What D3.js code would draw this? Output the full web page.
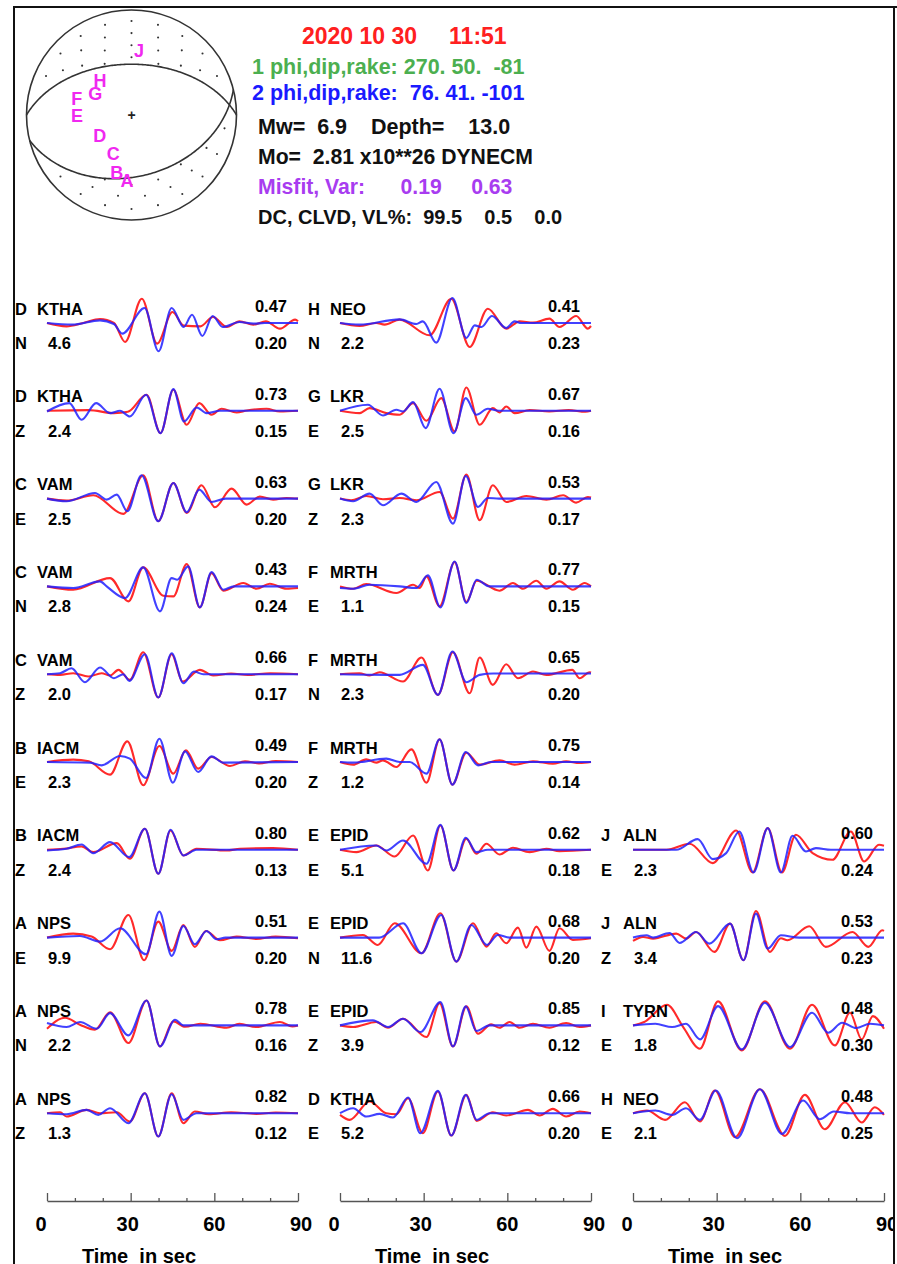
<!DOCTYPE html>
<html>
<head>
<meta charset="utf-8">
<title>Moment tensor inversion 2020 10 30</title>
<script src="https://cdn.jsdelivr.net/npm/d3@7"></script>
<style>
  body { margin: 0; background: #fff; }
  text { font-family: "Liberation Sans", Arial, Helvetica, sans-serif; font-weight: bold; white-space: pre; }
</style>
</head>
<body>
<script>
var width = 897, height = 1264

// ---- header / solution ----
var headerLines = [
  "2020 10 30     11:51",
  "1 phi,dip,rake: 270. 50.  -81",
  "2 phi,dip,rake:  76. 41. -101",
  "Mw=  6.9    Depth=    13.0",
  "Mo=  2.81 x10**26 DYNECM",
  "Misfit, Var:      0.19     0.63",
  "DC, CLVD, VL%:  99.5    0.5    0.0"
]
var headerColors = ["#ff2020", "#4caf50", "#1a1aff", "#111", "#111", "#a83cf0", "#111"]
var plane1 = [270, 50, -81]   // strike, dip, rake
var plane2 = [76, 41, -101]

// stations plotted on the focal sphere (azimuth deg, relative radius)
var bbLetters = ["J", "H", "G", "F", "E", "D", "C", "B", "A"]
var bbAz = [6.6, 317.6, 300.6, 286.5, 269.5, 237, 205, 194.5, 184]
var bbRad = [0.62, 0.445, 0.40, 0.544, 0.52, 0.36, 0.41, 0.563, 0.626]

// ---- panels ----
var letters = ["D","D","C","C","C","B","B","A","A","A", "H","G","G","F","F","F","E","E","E","D", "J","J","I","H"]
var stations = ["KTHA","KTHA","VAM","VAM","VAM","IACM","IACM","NPS","NPS","NPS",
                "NEO","LKR","LKR","MRTH","MRTH","MRTH","EPID","EPID","EPID","KTHA",
                "ALN","ALN","TYRN","NEO"]
var comps = ["N","Z","E","N","Z","E","Z","E","N","Z", "N","E","Z","E","N","Z","E","N","Z","E", "E","Z","E","E"]
var amps = ["4.6","2.4","2.5","2.8","2.0","2.3","2.4","9.9","2.2","1.3",
            "2.2","2.5","2.3","1.1","2.3","1.2","5.1","11.6","3.9","5.2",
            "2.3","3.4","1.8","2.1"]
var varRed = ["0.47","0.73","0.63","0.43","0.66","0.49","0.80","0.51","0.78","0.82",
              "0.41","0.67","0.53","0.77","0.65","0.75","0.62","0.68","0.85","0.66",
              "0.60","0.53","0.48","0.48"]
var misfits = ["0.20","0.15","0.20","0.24","0.17","0.20","0.13","0.20","0.16","0.12",
               "0.23","0.16","0.17","0.15","0.20","0.14","0.18","0.20","0.12","0.20",
               "0.24","0.23","0.30","0.25"]

// observed (red) and synthetic (blue) traces: [time s, normalised amplitude]
var obs = [
 [[0,0],[7,-10],[13,0],[19,12],[24,0],[28,-57],[34,73],[39.5,-62],[45,33],[49,-8],[55,-10],[59.5,18],[64.5,-12],[69,5],[74,-5],[78.5,5],[83.5,-17],[89,10],[90,5]],
 [[0,0],[15,2],[24,-7],[29,-3],[35.7,48],[40.7,-67],[45.3,63],[50.1,-42],[54.6,23],[59,-12],[62.6,6],[68,-5],[71.6,1],[78.7,6],[83.5,-2],[90,0]],
 [[0,0],[7,-6],[16.6,10],[27.4,-46],[34.5,70],[39.9,-68],[45.3,47],[50.1,-43],[55.4,40],[60.2,-26],[66.2,30],[71.6,-18],[76.3,6],[81.1,-3],[85.9,2],[90,0]],
 [[0,0],[9.4,-10],[22.6,25],[29.2,-45],[34.5,57],[41.7,-28],[45.3,-30],[50.1,67],[54.8,-63],[59,40],[63.2,-13],[70.4,10],[75.1,-7],[79.9,8],[85.9,-7],[90,-5]],
 [[0,0],[4.7,-2],[9.4,3],[14.8,-7],[19.6,3],[22.6,-4],[25.6,13],[29.7,-17],[34.5,66],[39.9,-70],[44.7,60],[48.6,-22],[54.8,13],[59.6,-4],[66,2],[72,-2],[80,3],[90,0]],
 [[0,0],[9.4,7],[15,2],[22.6,-38],[28.8,62],[34.5,-70],[40.3,48],[45.3,-35],[49.8,35],[54.2,-20],[59,15],[65.6,-12],[71,2],[76,-4],[82,3],[90,0]],
 [[0,0],[5.9,3],[12.4,10],[16.6,-7],[25,20],[29.7,-27],[35.1,63],[39.9,-72],[44.3,58],[48.9,-17],[53.6,3],[64.4,-2],[69.2,3],[81,5],[90,0]],
 [[0,0],[9.4,12],[16,3],[22.6,-35],[29.2,68],[34.8,-68],[39.9,48],[44.7,-40],[48.9,38],[53,-28],[57,20],[62,-8],[68,3],[75,-4],[82,3],[90,-2]],
 [[0,-10],[6.5,23],[11.8,2],[17.2,-13],[22.6,39],[29.2,-53],[35.7,75],[40.5,-63],[45.3,12],[49.5,-4],[55,5],[64.4,-7],[69,5],[75,-5],[83.5,10],[88,-3],[90,0]],
 [[0,0],[4.7,3],[7,-10],[14.2,10],[19,0],[25,3],[29.7,-25],[35.1,60],[39.9,-70],[44.7,60],[48.9,-30],[53,5],[58,-3],[66,3],[75,-2],[82,2],[90,0]],

 [[0,0],[7,-9],[13,0],[16,-5],[21.4,10],[32.1,-37],[39.9,73],[46.5,-72],[53,43],[59.6,-17],[64.4,5],[69.2,1],[75.1,13],[78.7,-12],[84.7,21],[88.9,-17],[90,-9]],
 [[0,0],[7,-7],[10.6,8],[16.6,-7],[21.4,-12],[26.2,23],[31,-30],[36.3,38],[41.1,-62],[45.3,70],[50.1,-42],[54.8,8],[57.2,-5],[59.6,13],[62.6,-7],[68,2],[75,-2],[82,2],[88,-3],[90,0]],
 [[0,0],[4,-5],[9.4,8],[15.4,-2],[21.4,2],[27.4,-5],[35.7,20],[40.5,-60],[45.3,72],[50.1,-65],[54.8,40],[59.6,-10],[66.8,8],[74,-3],[80,10],[84.7,-12],[88.9,5],[90,3]],
 [[0,0],[4.7,-7],[9.4,7],[20.2,-20],[26.2,5],[28.6,-5],[31,30],[35.7,-60],[41.1,73],[45.3,-47],[49,17],[57.2,-13],[62,10],[65.6,-7],[70.4,17],[74,-7],[78.7,15],[83.5,-10],[87.7,10],[90,0]],
 [[0,0],[7,3],[10.6,-4],[14.2,6],[22.6,-22],[29.2,50],[35.1,-62],[40.5,66],[46.5,-57],[50.1,50],[54.8,-32],[59.6,30],[63.8,-12],[69.2,8],[74,-2],[83.3,13],[85.9,-12],[89.5,6],[90,5]],
 [[0,0],[4.7,-8],[9.4,8],[13,-2],[15.4,5],[20.2,-15],[25.6,38],[31,-62],[35.7,68],[40.3,-68],[45.3,28],[50.1,-8],[57.2,5],[62.6,-8],[69.2,2],[76.3,-5],[81.1,2],[85.9,-3],[90,0]],
 [[0,0],[5.9,-7],[13,13],[19.6,-20],[26.2,43],[31.5,-62],[36,73],[40.7,-62],[45.3,33],[48.9,-12],[52.5,18],[57.2,-14],[62,6],[68,-7],[74,3],[78.7,-4],[90,0]],
 [[0,0],[8.2,8],[13.6,-22],[19.6,43],[29.2,-47],[36,73],[41.7,-72],[47.7,43],[52.5,-27],[56,13],[59.6,-17],[63.8,30],[66.8,-30],[70.4,33],[75.1,-40],[78.7,28],[83.5,-7],[90,-2]],
 [[0,0],[4.7,-5],[13,10],[17.2,-7],[22.6,20],[31,-35],[35.7,67],[40.5,-63],[45.3,57],[49.5,-25],[54.2,3],[57.2,-7],[60.8,10],[64.4,-7],[69.2,5],[75.1,-7],[81.1,7],[85.9,-5],[90,0]],
 [[0,-5],[3.5,-20],[10.6,35],[16.6,0],[20.2,-3],[24.4,45],[29.7,-60],[35.1,65],[39.9,-67],[45.3,55],[49,-23],[54.8,3],[59.6,-7],[67.4,10],[71.6,-7],[76.3,13],[81.1,-10],[85.9,5],[90,0]],

 [[0,0],[12,0],[20.3,18],[28.6,-40],[37,58],[42.9,-68],[48.3,65],[53.4,-68],[58.4,45],[64.4,-10],[71.5,-30],[78.1,55],[82.9,-35],[88.2,15],[90,12]],
 [[0,-10],[3.6,2],[7.2,-3],[15.5,12],[19.1,-3],[22.6,17],[29.2,-43],[34.8,42],[39.6,-68],[44.1,80],[49.1,-43],[53,-2],[55.4,-8],[63.2,34],[69.1,-28],[78.7,17],[84.4,-28],[89.4,22],[90,20]],
 [[0,0],[4,10],[12.2,62],[18,-5],[24,-70],[30.5,72],[39,-75],[47.3,72],[56.3,-70],[64.2,62],[72.4,-60],[77.8,38],[82,-42],[86,28],[90,-10]],
 [[0,0],[5,8],[11.5,-20],[18.6,33],[24,-25],[29.4,68],[36.6,-72],[45.5,72],[54.5,-68],[61.6,55],[68.8,-48],[76,33],[82,-28],[86.7,18],[90,-5]]
]
var syn = [
 [[0,0],[9,-5],[19,8],[24,-3],[27,-32],[35,45],[40,-85],[44.7,45],[49,-12],[52,25],[55.7,-39],[59.4,21],[63,-12],[69,3],[74,-2],[78,0],[90,0]],
 [[0,-2],[8,23],[12.4,-27],[17.6,23],[22.6,-7],[26.2,0],[29.7,-17],[35.5,48],[40.7,-67],[45.3,65],[49.1,-32],[53.7,10],[57.2,-7],[62,0],[90,0]],
 [[0,0],[7,-8],[17.2,17],[21.4,-3],[25,12],[28.8,-38],[33.9,70],[39.9,-68],[45.3,47],[50.1,-41],[54.6,27],[59,-10],[64,0],[90,0]],
 [[0,0],[9.4,-5],[19,15],[21.4,0],[28,-35],[34.5,57],[40.5,-75],[44.7,25],[46.7,20],[50.6,60],[54.8,-63],[59,43],[63.2,-10],[67,0],[90,0]],
 [[0,0],[4.7,3],[8.8,18],[13.6,-24],[19,20],[24,-12],[27.4,0],[29.5,-20],[35.1,60],[39.9,-70],[44.7,63],[48.9,-27],[52.7,8],[56,0],[90,0]],
 [[0,0],[15.4,-2],[19.6,-10],[26.2,18],[29.7,10],[35.5,-48],[40.3,70],[45.1,-62],[49.5,32],[54.2,-30],[59,17],[63.2,-2],[90,0]],
 [[0,-2],[7,3],[12.4,16],[16.6,-10],[22.6,23],[29.5,-22],[35.1,63],[39.9,-72],[44.3,60],[48.9,-17],[53.6,0],[90,0]],
 [[0,0],[11.8,5],[19,-12],[26.2,28],[35.5,-50],[40.3,78],[44.7,-55],[48.9,35],[53,-20],[57.2,20],[60.8,-5],[64,0],[90,0]],
 [[0,7],[7,-5],[11.8,10],[17.8,-10],[22.6,37],[29.2,-30],[35.7,75],[40.5,-63],[45.9,17],[48.9,0],[90,0]],
 [[0,0],[7,-3],[14.2,10],[18.4,-5],[22.6,15],[29.2,-30],[35.1,60],[39.9,-70],[44.7,57],[48.9,-20],[53.6,0],[90,0]],

 [[0,0],[7,-5],[21.4,11],[27.4,-3],[29.7,5],[34.5,-59],[40.3,75],[45.3,-45],[48.3,-7],[50.7,-12],[54.5,21],[59.6,-15],[62.6,5],[65,0],[90,0]],
 [[0,0],[10,18],[15.4,-14],[20.2,3],[22.6,-2],[26.2,26],[30.7,-52],[35.7,66],[40.7,-67],[45.1,38],[48.9,-12],[53,6],[57,0],[90,0]],
 [[0,0],[4.7,-8],[10.6,15],[15.4,-20],[22,15],[27.4,-10],[34.5,50],[40.5,-75],[45.1,68],[49.5,-25],[53,2],[57,0],[90,0]],
 [[0,-5],[4.7,-7],[10.6,5],[21.4,0],[27.4,-5],[31.5,33],[36,-63],[41.1,75],[45.3,-50],[49,20],[53.6,0],[90,0]],
 [[0,0],[21.4,-2],[29.7,28],[35.1,-62],[40.3,68],[45.3,-24],[50.1,-2],[55,2],[90,2]],
 [[0,0],[4.7,-2],[16.6,10],[21.4,0],[25,0],[31,-35],[35.7,68],[40.3,-68],[45.1,30],[49.5,-10],[54,0],[90,0]],
 [[0,0],[13,13],[16.6,-2],[22.6,28],[31,-42],[36,75],[40.7,-62],[45.1,36],[48.9,-7],[53,0],[90,0]],
 [[0,0],[14,0],[22.6,43],[29.2,-47],[36.3,68],[41.7,-72],[47.1,38],[52.7,-22],[56.6,8],[60.8,0],[90,0]],
 [[0,0],[11.8,15],[17.2,-5],[22.6,20],[28.8,-20],[36,70],[40.5,-63],[45.1,57],[48.9,-17],[53.6,0],[90,0]],
 [[0,0],[4.7,15],[9.4,-10],[14.2,-2],[19,-13],[24.4,47],[28.8,-60],[35.1,67],[39.9,-67],[45.1,55],[49,-20],[53.6,0],[90,0]],

 [[0,0],[15.5,0],[23.2,32],[28.6,-28],[33.4,-10],[38.1,55],[43.2,-68],[48.3,65],[53,-68],[57.2,42],[62,-5],[65.6,5],[71,0],[90,0]],
 [[0,0],[4.8,7],[7.2,0],[13.1,14],[16.7,-16],[22.6,17],[27.4,-18],[34.8,42],[39.6,-68],[44.1,72],[48.3,-33],[53,7],[59.6,0],[90,0]],
 [[0,0],[8,5],[14,-5],[19,5],[24,-42],[30.5,58],[39,-72],[47.3,68],[56.3,-65],[64.2,38],[70,-22],[75,8],[80,-8],[85,5],[90,0]],
 [[0,0],[8,8],[14,-5],[19,15],[24,-20],[29.7,68],[37.3,-75],[45.5,72],[53.4,-62],[61,38],[67,-18],[72,5],[78,0],[90,0]]
]

var majorTicks = [0, 30, 60, 90]
var minorTicks = [10, 20, 40, 50, 70, 80]

// ---- layout ----
var colX = [47, 340, 633], colW = 251
var rowBase0 = 323, rowStep = 87.8, axisY = 1201

var svg = d3.select("body").append("svg")
  .attr("width", width)
  .attr("height", height)

// header text
svg.selectAll("text.head")
  .data(headerLines)
  .enter().append("text")
    .attr("class", "head")
    .attr("x", (d, i) => i == 0 ? 302 : (i < 3 ? 252 : 258))
    .attr("y", (d, i) => [44, 74, 100, 134, 164, 194, 224][i])
    .attr("font-size", (d, i) => [23, 21.5, 21.5, 21.5, 21.2, 21.2, 20][i])
    .attr("fill", (d, i) => headerColors[i])
    .text(d => d)

// ---- focal sphere ----
var bbCx = 131.5, bbCy = 115, bbR = 105
var proj = d3.geoAzimuthalEqualArea()
  .rotate([0, -90]).clipAngle(90)
  .scale(bbR / Math.SQRT2).translate([bbCx, bbCy]).precision(0.2)
var gpath = d3.geoPath(proj)
var rScale = d3.scaleLinear().domain([0, 1]).range([0, bbR])

function geo(az, plunge) { return [180 - az, plunge] }
function sideHemi(p, far) {
  var c = far ? geo(p[0] + 90, p[1] - 90) : geo(p[0] - 90, 90 - p[1])
  return d3.geoCircle().center(c).radius(90).precision(1)()
}

var defs = svg.append("defs")
function addClip(id, feature) {
  defs.append("clipPath").attr("id", id).append("path").attr("d", gpath(feature))
}
addClip("far1", sideHemi(plane1, true))
addClip("near2", sideHemi(plane2, false))
addClip("near1", sideHemi(plane1, false))
addClip("far2", sideHemi(plane2, true))

// dotted (tension) quadrants
var dots = []
d3.range(8).forEach(function(k) {
  var rr = 0.895 - k * 0.115
  var n = Math.max(1, Math.round(2 * Math.PI * rr * bbR / 27))
  d3.range(n).forEach(function(j) { dots.push([j * 360 / n, rr]) })
})
function dotLayer(c1, c2) {
  var g = svg.append("g").attr("clip-path", "url(#" + c1 + ")")
    .append("g").attr("clip-path", "url(#" + c2 + ")")
  g.selectAll("circle").data(dots).enter().append("circle")
    .attr("cx", d => bbCx + rScale(d[1]) * Math.sin(d[0] * Math.PI / 180))
    .attr("cy", d => bbCy - rScale(d[1]) * Math.cos(d[0] * Math.PI / 180))
    .attr("r", 1.05).attr("fill", "#333")
}
dotLayer("far1", "near2")
dotLayer("near1", "far2")

svg.append("circle").attr("cx", bbCx).attr("cy", bbCy).attr("r", bbR)
  .attr("fill", "none").attr("stroke", "#333").attr("stroke-width", 1.6)
;[plane1, plane2].forEach(function(p) {
  var ring = sideHemi(p, false).coordinates[0]
  svg.append("path").attr("d", gpath({type: "LineString", coordinates: ring}))
    .attr("fill", "none").attr("stroke", "#333").attr("stroke-width", 1.6)
})
svg.append("text").attr("x", bbCx).attr("y", bbCy).attr("dy", "0.35em")
  .attr("text-anchor", "middle").attr("font-size", 14).attr("font-weight", "normal")
  .attr("fill", "#222").text("+")

svg.selectAll("text.sta")
  .data(bbLetters)
  .enter().append("text")
    .attr("class", "sta")
    .attr("x", (d, i) => bbCx + rScale(bbRad[i]) * Math.sin(bbAz[i] * Math.PI / 180))
    .attr("y", (d, i) => bbCy - rScale(bbRad[i]) * Math.cos(bbAz[i] * Math.PI / 180))
    .attr("dy", "0.36em")
    .attr("text-anchor", "middle")
    .attr("font-size", 18)
    .attr("fill", "#f028f0")
    .text(d => d)

// ---- waveform panels ----
function panelPos(i) {
  if (i < 10) return [0, i]
  if (i < 20) return [1, i - 10]
  return [2, i - 20 + 6]
}

stations.forEach(function(st, i) {
  var pos = panelPos(i)
  var x0 = colX[pos[0]]
  var base = rowBase0 + pos[1] * rowStep
  var x = d3.scaleLinear().domain([0, 90]).range([x0, x0 + colW])
  var y = d3.scaleLinear().domain([-100, 100]).range([base + 33.3, base - 33.3])
  var line = d3.line().x(d => x(d[0])).y(d => y(d[1])).curve(d3.curveMonotoneX)
  var g = svg.append("g")

  g.append("path").attr("d", line(obs[i]))
    .attr("fill", "none").attr("stroke", "#ff2a2a").attr("stroke-width", 2.1)
  g.append("path").attr("d", line(syn[i]))
    .attr("fill", "none").attr("stroke", "#2020ff").attr("stroke-width", 2.1)
    .attr("stroke-opacity", 0.85)

  var fs = 16.5
  g.append("text").attr("x", x0 - 32).attr("y", base - 8.5).attr("font-size", fs).text(letters[i])
  g.append("text").attr("x", x0 - 10).attr("y", base - 8.5).attr("font-size", fs).text(st)
  g.append("text").attr("x", x0 - 32).attr("y", base + 26).attr("font-size", fs).text(comps[i])
  g.append("text").attr("x", x0 + 1).attr("y", base + 26).attr("font-size", fs).text(amps[i])
  g.append("text").attr("x", x0 + 240).attr("y", base - 11).attr("font-size", fs)
    .attr("text-anchor", "end").text(varRed[i])
  g.append("text").attr("x", x0 + 240).attr("y", base + 26).attr("font-size", fs)
    .attr("text-anchor", "end").text(misfits[i])
})

// ---- time axes ----
colX.forEach(function(x0) {
  var x = d3.scaleLinear().domain([0, 90]).range([x0, x0 + colW])
  var lab = d3.scaleLinear().domain([0, 90]).range([x0 - 6, x0 + 254])
  var ga = svg.append("g").attr("transform", "translate(0," + axisY + ")")
  ga.call(d3.axisTop(x).tickValues(majorTicks).tickSize(8).tickSizeOuter(0).tickFormat(""))
  ga.append("g").call(d3.axisTop(x).tickValues(minorTicks).tickSize(3).tickSizeOuter(0).tickFormat(""))
    .select(".domain").remove()
  ga.selectAll("path, line").attr("stroke", "#555").attr("stroke-width", 1.3)

  svg.selectAll(null).data(majorTicks).enter().append("text")
    .attr("x", d => lab(d)).attr("y", axisY + 30)
    .attr("text-anchor", "middle").attr("font-size", 20)
    .text(d => d)
  svg.append("text").attr("x", x0 + 92).attr("y", axisY + 62)
    .attr("text-anchor", "middle").attr("font-size", 20)
    .text("Time  in sec")
})

// frame (the right edge crops whatever lies beyond it)
svg.append("rect").attr("x", 895).attr("y", 9).attr("width", 4).attr("height", height)
  .attr("fill", "#fff")
svg.append("path")
  .attr("d", "M14," + (height + 5) + "V7H" + width + "M894,7V" + (height + 5))
  .attr("fill", "none").attr("stroke", "#111").attr("stroke-width", 2)
</script>
</body>
</html>
